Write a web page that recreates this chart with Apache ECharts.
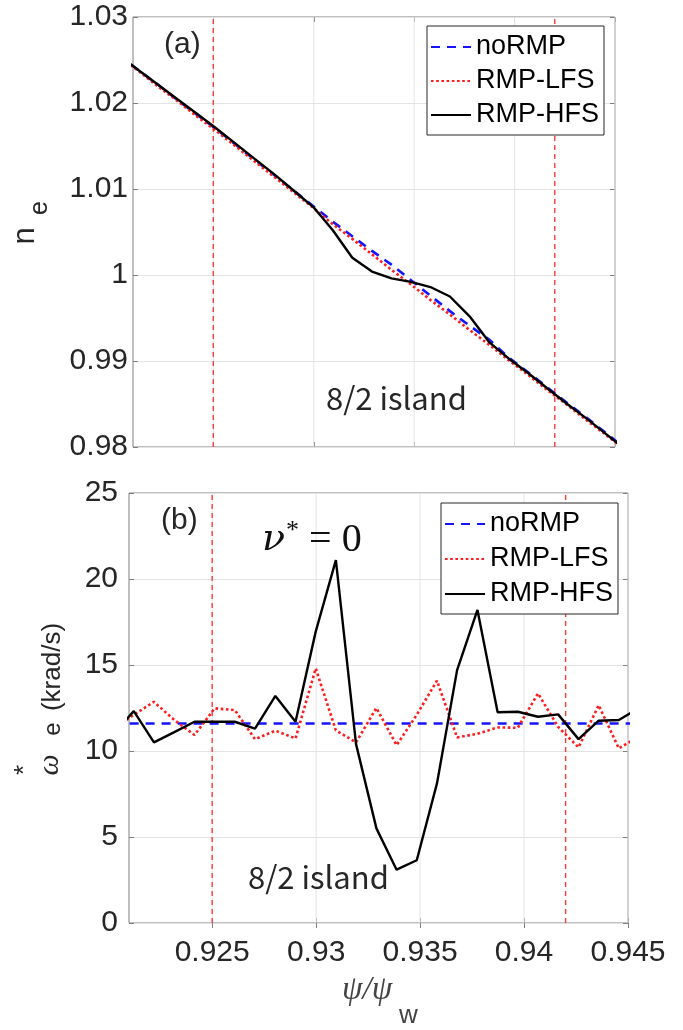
<!DOCTYPE html>
<html>
<head>
<meta charset="utf-8">
<script src="https://cdn.jsdelivr.net/npm/echarts@6/dist/echarts.min.js"></script>
<style>
html,body{margin:0;padding:0;background:#fff;}
#chart{width:683px;height:1030px;}
</style>
</head>
<body>
<div id="chart"></div>
<script>
// psi / psi_w sample positions
const psi = [0.92026,0.92123,0.92220,0.92318,0.92415,0.92512,0.92609,0.92706,0.92804,0.92901,
             0.92998,0.93095,0.93192,0.93290,0.93387,0.93484,0.93581,0.93678,0.93776,0.93873,
             0.93970,0.94067,0.94164,0.94262,0.94359,0.94456,0.94553];
// panel (a): n_e
const neNoRMP = [1.0256,1.0239,1.0222,1.0204,1.0187,1.0170,1.0152,1.0134,1.0116,1.0098,
                 1.0080,1.0062,1.0045,1.0028,1.0012,0.9994,0.9976,0.9958,0.9941,0.9925,
                 0.9904,0.9887,0.9869,0.9851,0.9834,0.9816,0.9798];
const neLFS   = [1.0255,1.0238,1.0220,1.0203,1.0185,1.0168,1.0150,1.0132,1.0114,1.0096,
                 1.0078,1.0059,1.0042,1.0024,1.0006,0.9989,0.9971,0.9954,0.9936,0.9919,
                 0.9901,0.9884,0.9866,0.9849,0.9831,0.9814,0.9796];
const neHFS   = [1.0256,1.0239,1.0222,1.0205,1.0188,1.0171,1.0153,1.0135,1.0117,1.0098,
                 1.0079,1.0052,1.0020,1.0004,0.9996,0.9992,0.9986,0.9975,0.9952,0.9922,
                 0.9903,0.9886,0.9868,0.9850,0.9833,0.9815,0.9797];
// panel (b): omega*_e (krad/s)
const omNoRMP = [11.6,11.6,11.6,11.6,11.6,11.6,11.6,11.6,11.6,11.6,11.6,11.6,11.6,11.6,
                 11.6,11.6,11.6,11.6,11.6,11.6,11.6,11.6,11.6,11.6,11.6,11.6,11.6];
const omLFS   = [11.3,12.1,12.86,11.8,10.93,12.48,12.38,10.69,11.18,10.73,
                 14.8,11.2,10.5,12.5,10.34,12.1,14.09,10.79,11.0,11.37,
                 11.35,13.35,11.4,10.21,12.66,10.15,10.85];
const omHFS   = [11.0,12.32,10.5,11.1,11.7,11.7,11.7,11.3,13.2,11.7,
                 16.94,21.1,10.4,5.5,3.1,3.65,8.1,14.7,18.2,12.25,
                 12.28,11.99,12.13,10.69,11.76,11.8,12.5];
const seriesNames = ['noRMP','RMP-LFS','RMP-HFS'];
const xTicks = [0.925,0.93,0.935,0.94,0.945];
const islandBounds = [0.925,0.942];
const yRangeA = [0.98,1.03], yRangeB = [0,25];

const zip = (xs, ys) => xs.map((x,i)=>[x, ys[i]]);
const SANS = 'Liberation Sans';
const AX = '#7f7f7f', TXT = '#262626';

const styles = [
  {color:'#1414ff', width:2.6, type:[9,7]},
  {color:'#ff1c1c', width:2.6, type:[2.6,2.6]},
  {color:'#000000', width:2.4, type:'solid'}
];

function mkSeries(names, datas, xi, yi){
  return datas.map((d,i)=>({
      name:names[i], type:'line', xAxisIndex:xi, yAxisIndex:yi,
      data: zip(psi, d), symbol:'none', showSymbol:false, clip:true,
      lineStyle:Object.assign({cap:'butt'}, styles[i]),
      itemStyle:{color:styles[i].color},
      emphasis:{disabled:true}, z: 3+i
  }));
}
function vLines(values, range, xi, yi, lineStyle, z){
  return values.map(v=>({
    name:'_v', type:'line', xAxisIndex:xi, yAxisIndex:yi, silent:true,
    data:[[v, range[0]],[v, range[1]]], symbol:'none', showSymbol:false, clip:true,
    lineStyle:lineStyle, emphasis:{disabled:true}, z:z, legendHoverLink:false
  }));
}

function xAx(grid, pos, labels){
  return {type:'value', gridIndex:grid, position:pos, min:0.921, max:0.945,
    axisLine:{show:false},
    axisTick:{show:true, inside:true, length:5, lineStyle:{color:AX}, customValues:xTicks},
    axisLabel:{show:labels, customValues:xTicks, fontSize:30, fontFamily:SANS, color:TXT, margin:15},
    splitLine:{show:false}};
}
function yAx(grid, pos, min, max, step, margin){
  return {type:'value', gridIndex:grid, position:pos, min:min, max:max, interval:step,
    axisLine:{show:false},
    axisTick:{show:true, inside:true, length:5, lineStyle:{color:AX}},
    axisLabel:{show:pos==='left', fontSize:30, fontFamily:SANS, color:TXT, margin:margin},
    splitLine:{show:pos==='left', lineStyle:{color:'#e3e3e3', width:1}}};
}
function legend(left, top, gap){
  return {show:true, data:seriesNames, orient:'vertical', left:left, top:top,
    itemWidth:40, itemHeight:14, itemGap:gap, align:'left',
    selectedMode:false,
    itemStyle:{opacity:0},
    backgroundColor:'#fff', borderColor:'#262626', borderWidth:1,
    padding:[6,5,5,3],
    textStyle:{fontSize:27, fontFamily:SANS, color:'#000', lineHeight:30}};
}
function txt(x,y,text,font,fill){
  return {type:'text', x:x, y:y, z:100, silent:true,
    style:{text:text, font:font, fill:fill||TXT, align:'left', verticalAlign:'middle'}};
}
function rtxt(x,y,text,font,fill){
  return {type:'text', x:x, y:y, rotation:Math.PI/2, z:100, silent:true,
    style:{text:text, font:font, fill:fill||TXT, align:'center', verticalAlign:'middle'}};
}

const gridStyle = {color:'#e3e3e3', width:1, type:'solid'};
const boundStyle = {color:'#ff3a3a', width:1.4, type:[5,4]};

const chart = echarts.init(document.getElementById('chart'), null, {renderer:'canvas'});
chart.setOption({
  animation:false,
  backgroundColor:'#fff',
  textStyle:{fontFamily:SANS},
  grid:[
    {left:133, top:17, width:482, height:430, show:true, borderColor:AX, borderWidth:1, backgroundColor:'#fff'},
    {left:129, top:493, width:499, height:430, show:true, borderColor:AX, borderWidth:1, backgroundColor:'#fff'}
  ],
  xAxis:[ xAx(0,'bottom',false), xAx(0,'top',false), xAx(1,'bottom',true), xAx(1,'top',false) ],
  yAxis:[ yAx(0,'left',yRangeA[0],yRangeA[1],0.01,5), yAx(0,'right',yRangeA[0],yRangeA[1],0.01,5),
          yAx(1,'left',yRangeB[0],yRangeB[1],5,11), yAx(1,'right',yRangeB[0],yRangeB[1],5,11) ],
  legend:[ legend(427,26,4), legend(441,503,5) ],
  series:[].concat(
    vLines(xTicks, yRangeA, 0, 0, gridStyle, 1),
    vLines(xTicks, yRangeB, 2, 2, gridStyle, 1),
    vLines(islandBounds, yRangeA, 0, 0, boundStyle, 2),
    vLines(islandBounds, yRangeB, 2, 2, boundStyle, 2),
    mkSeries(seriesNames,[neNoRMP,neLFS,neHFS],0,0),
    mkSeries(seriesNames,[omNoRMP,omLFS,omHFS],2,2)
  ),
  graphic:[
    txt(164,45,'(a)','30px '+SANS),
    txt(161,521,'(b)','30px '+SANS),
    txt(326,398,'8/2 island','31px "Noto Sans CJK SC"'),
    txt(248,877,'8/2 island','31px "Noto Sans CJK SC"'),
    {type:'text', x:262, y:540, z:100, silent:true,
      style:{text:'{nu|ν}{st|*}{eq|=}{z|0}', fill:'#111', align:'left', verticalAlign:'middle',
        rich:{
          nu:{font:'italic 38px "DejaVu Serif"', fill:'#111', lineHeight:44},
          st:{font:'26px "Liberation Serif"', fill:'#111', verticalAlign:'top', lineHeight:26, padding:[0,0,0,1]},
          eq:{font:'40px "Liberation Serif"', fill:'#111', padding:[0,10,0,10], lineHeight:44},
          z:{font:'40px "Liberation Serif"', fill:'#111', lineHeight:44}
        }}},
    // y-axis name, panel (a)
    rtxt(25,236,'n','31px '+SANS),
    rtxt(40,208,'e','25px '+SANS),
    // y-axis name, panel (b)
    rtxt(50,765,'ω','italic 30px "Liberation Serif"'),
    rtxt(25,770,'*','26px '+SANS),
    rtxt(53,729,'e','24px '+SANS),
    rtxt(53,667,'(krad/s)','26px '+SANS),
    // x-axis name
    txt(342,990,'ψ/ψ','italic 33px "Liberation Serif"','#444'),
    txt(399,1016,'w','26px '+SANS,'#444')
  ]
});
</script>
</body>
</html>
